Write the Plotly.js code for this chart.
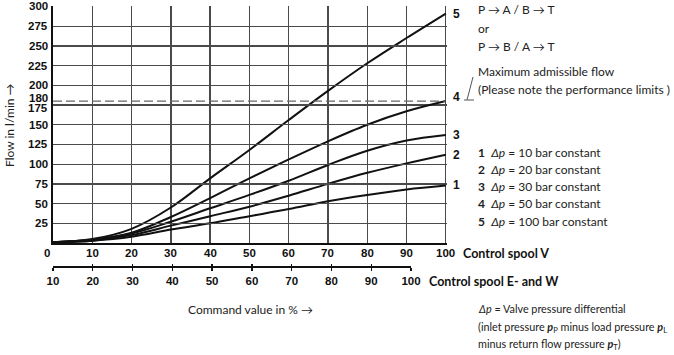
<!DOCTYPE html>
<html><head><meta charset="utf-8">
<script src="https://cdn.plot.ly/plotly-3.0.1.min.js"></script>
<style>body{margin:0;background:#fff}#chart{width:674px;height:355px}</style>
</head><body><div id="chart"></div>
<script>
// ---- data ----
const command = [0, 10, 20, 30, 40, 50, 60, 70, 80, 90, 100];
const flow1 = [1, 3, 8, 17, 25, 34, 43, 53, 61, 68, 73];
const flow2 = [1, 3, 10, 22, 34, 46, 60, 75, 89, 101, 112];
const flow3 = [1, 4, 12, 27, 44, 61, 79, 99, 117, 130, 137];
const flow4 = [1, 4, 13, 33, 57, 82, 106, 129, 150, 167, 180];
const flow5 = [1, 5, 18, 45, 82, 118, 156, 193, 228, 260, 291];
const curveNames = ['1', '2', '3', '4', '5'];
const deltaP = [10, 20, 30, 50, 100];
const maxFlow = 180;
const yTickVals = [25, 50, 75, 100, 125, 150, 175, 180, 200, 225, 250, 275, 300];
const xTicksV = [0, 10, 20, 30, 40, 50, 60, 70, 80, 90, 100];
const xTicksEW = [10, 20, 30, 40, 50, 60, 70, 80, 90, 100];

// ---- layout helpers ----
const L = 53, R = 447, T = 6, B = 280;
const W = R - L, H = B - T;
const px = p => (p - L) / W;
const py = p => (B - p) / H;
const FN = 'Lato, "Liberation Sans Narrow", Roboto, sans-serif';
const FB = '"Liberation Sans", Arial, sans-serif';
const txt = '#222';

const flows = [flow1, flow2, flow3, flow4, flow5];
const traces = flows.map((f, i) => ({
  x: command, y: f, type: 'scatter', mode: 'lines',
  line: {color: '#111', width: 2, shape: 'spline', smoothing: 1},
  hoverinfo: 'skip', showlegend: false, name: curveNames[i]
}));
// maximum admissible flow line
traces.push({
  x: [command[0], command[command.length - 1]], y: [maxFlow, maxFlow],
  type: 'scatter', mode: 'lines', line: {color: '#666', width: 1.2, dash: '9px,4px'},
  hoverinfo: 'skip', showlegend: false
});
// carriers for the second (E- and W) scale
traces.push({x: xTicksEW, y: xTicksEW.map(() => null), xaxis: 'x2', yaxis: 'y', mode: 'lines', showlegend: false, hoverinfo: 'skip'});
traces.push({x: xTicksEW, y: xTicksEW.map(() => null), xaxis: 'x3', yaxis: 'y', mode: 'lines', showlegend: false, hoverinfo: 'skip'});

const ann = [];
const A = o => ann.push(Object.assign({showarrow: false, xanchor: 'left', yanchor: 'middle'}, o));
// y tick labels
yTickVals.forEach(v => {
  A({xref: 'paper', yref: 'y', x: 0, y: v, xanchor: 'right',
    xshift: -3, yshift: v === 180 ? 3 : (v === 175 ? -3 : 0),
    text: '<b>' + v + '</b>', font: {family: FB, size: 11.5, color: '#111'}});
});
// x tick labels (Control spool V)
xTicksV.forEach(v => {
  A({xref: 'x', yref: 'paper', x: v, y: py(253), xanchor: 'center', xshift: v === 0 ? -6 : 0,
    text: '<b>' + v + '</b>', font: {family: FB, size: 11.5, color: '#111'}});
});
// curve end labels
const endShift = [0, 0, 0, 4, 0];
flows.forEach((f, i) => {
  A({xref: 'x', yref: 'y', x: command[command.length - 1], y: f[f.length - 1],
    xshift: 5, yshift: endShift[i],
    text: '<b>' + curveNames[i] + '</b>', font: {family: FB, size: 12, color: '#111'}});
});
// axis names
A({xref: 'paper', yref: 'paper', x: px(461), y: py(253),
  text: '<b>Control spool V</b>', font: {family: FN, size: 12.5, color: '#111'}});
A({xref: 'paper', yref: 'paper', x: px(427), y: py(281),
  text: '<b>Control spool E- and W</b>', font: {family: FN, size: 12.5, color: '#111'}});
A({xref: 'paper', yref: 'paper', x: px(251), y: py(309), xanchor: 'center',
  text: 'Command value in % →', font: {family: FN, size: 12, color: txt}});
A({xref: 'paper', yref: 'paper', x: px(10), y: py(125), xanchor: 'center', textangle: -90,
  text: 'Flow in l/min →', font: {family: FN, size: 12, color: txt}});
// flow direction notes
[['P → A / B → T', 10], ['or', 28], ['P → B / A → T', 46],
 ['Maximum admissible flow', 71], ['(Please note the performance limits )', 89]].forEach(([t, y]) => {
  A({xref: 'paper', yref: 'paper', x: px(476), y: py(y), text: t, font: {family: FN, size: 12, color: txt}});
});
// pressure legend
curveNames.forEach((n, i) => {
  A({xref: 'paper', yref: 'paper', x: px(476), y: py(152 + i * 17.3),
    text: '<b>' + n + '</b>  <i>Δp</i> = ' + deltaP[i] + ' bar constant', font: {family: FN, size: 12, color: txt}});
});
// definition
[['<i>Δp</i> = Valve pressure differential', 308],
 ['(inlet pressure <b><i>p</i></b><sub>P</sub> minus load pressure <b><i>p</i></b><sub>L</sub>', 327],
 ['minus return flow pressure <b><i>p</i></b><sub>T</sub>)', 345]].forEach(([t, y]) => {
  A({xref: 'paper', yref: 'paper', x: px(476), y: py(y), text: t, font: {family: FN, size: 10.8, color: txt}});
});

const shapes = [
  {type: 'line', xref: 'paper', yref: 'paper', x0: px(473), y0: py(77), x1: px(467), y1: py(100), line: {color: '#555', width: 1}},
  {type: 'line', xref: 'paper', yref: 'paper', x0: px(464), y0: py(100), x1: px(474), y1: py(100), line: {color: '#555', width: 1}}
];

const layout = {
  width: 674, height: 355, paper_bgcolor: '#fff', plot_bgcolor: 'rgba(0,0,0,0)',
  margin: {l: L, r: 674 - R, t: T, b: 355 - B, pad: 0},
  showlegend: false,
  xaxis: {domain: [0, 1], range: [0, 100.3], anchor: 'y', tickvals: xTicksV.slice(1),
    showgrid: true, gridcolor: '#4a4a4a', gridwidth: 1.3, zeroline: false,
    showline: true, linecolor: '#111', linewidth: 2.2, ticks: '', showticklabels: false},
  yaxis: {domain: [py(243), 1], range: [0, 300.6], tickvals: yTickVals.filter(v => v !== 180),
    showgrid: true, gridcolor: '#4a4a4a', gridwidth: 1.3, zeroline: false,
    showline: true, linecolor: '#111', linewidth: 2.2, showticklabels: false, ticks: ''},
  xaxis2: {domain: [0, px(411)], range: [10, 100], anchor: 'free', position: py(267),
    tickvals: xTicksEW, ticktext: xTicksEW.map(v => '<b>' + v + '</b>'),
    showgrid: false, zeroline: false, showline: true, linecolor: '#111', linewidth: 2,
    ticks: 'outside', ticklen: 3, tickwidth: 1.3, tickcolor: '#111',
    tickfont: {family: FB, size: 11.5, color: '#111'}},
  xaxis3: {domain: [0, px(411)], range: [10, 100], anchor: 'free', position: py(267), overlaying: 'x2',
    tickvals: xTicksEW, showgrid: false, zeroline: false, showline: false,
    ticks: 'inside', ticklen: 3, tickwidth: 1.3, tickcolor: '#111', showticklabels: false},
  annotations: ann, shapes: shapes
};
Plotly.newPlot('chart', traces, layout, {displayModeBar: false, staticPlot: true});
</script></body></html>
